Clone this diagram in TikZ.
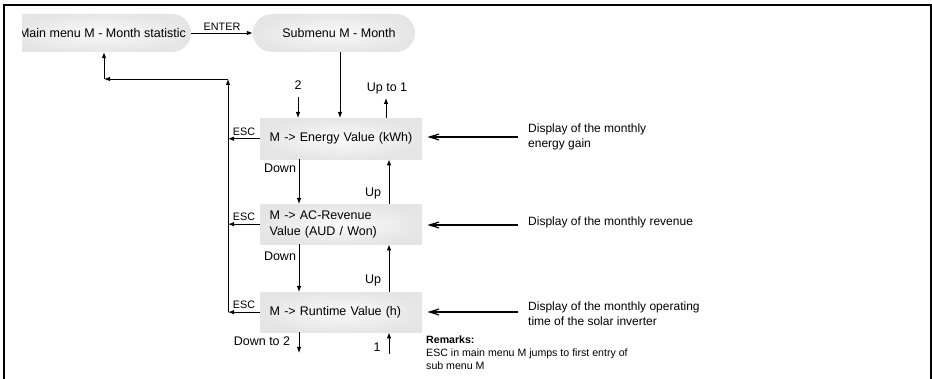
\documentclass[tikz,border=0pt]{standalone}
\usepackage{fontspec}
\setmainfont{Liberation Sans}
\usetikzlibrary{arrows.meta,shapes.misc}
\begin{document}
\begin{tikzpicture}[x=1pt,y=-1pt,
  arr/.style={line width=0.9pt,-{Latex[length=6pt,width=4.5pt]}},
  bigarr/.style={line width=1.8pt,-{Stealth[open,length=18pt,width=11pt,inset=12pt,line width=0.9pt]}},
  boxfill/.style={inner color=black!2, outer color=black!10},
  menubox/.style={rounded rectangle, boxfill, minimum height=38pt, inner sep=0pt},
  valbox/.style={rectangle, boxfill, anchor=north west, minimum height=41pt, text width=147pt, inner xsep=7.5pt, inner ysep=0pt, align=left, font=\fontsize{12.5}{16}\selectfont},
  lbl/.style={inner sep=0pt, font=\fontsize{12.5}{15}\selectfont},
  small/.style={inner sep=0pt, font=\fontsize{10.8}{13}\selectfont},
  disp/.style={inner sep=0pt, anchor=west, align=left, font=\fontsize{12}{15}\selectfont}]
\useasboundingbox (0,0) rectangle (932,379);
\draw[line width=1.4pt] (4,379) -- (4,5) -- (931,5) -- (931,379);

% top menus
\begin{scope}
\clip (22,0) rectangle (200,60);
\node[menubox, rounded rectangle left arc=none, minimum width=181pt] (mainbox) at (100.5,33) {};
\node[lbl, anchor=east] (main) at (186,33) {Main menu M - Month statistic};
\end{scope}
\node[menubox, minimum width=162pt] (sub) at (334,33) {};
\node[lbl] (subt) at (339,33) {Submenu M - Month};
\draw[arr] (mainbox.east) -- (sub.west) node[small, midway, above=2pt] (enter) {ENTER};

% value boxes
\node[valbox] (en) at (260,118) {\hspace*{2pt}M -> Energy Value (kWh)};
\node[valbox, minimum height=40pt] (ac) at (260,204) {\hspace*{2pt}M -> AC-Revenue\\\hspace*{2pt}Value (AUD / Won)};
\node[valbox, minimum height=40pt] (rt) at (260,292) {\hspace*{2pt}M -> Runtime Value (h)};

% helper coordinates
\coordinate (L1) at (228,79);
\coordinate (L2) at (104,79);
\coordinate (dx) at (299,0);
\coordinate (ux) at (389,0);
\coordinate (t2) at (298,97);
\coordinate (u1) at (386,98);
\coordinate (d2) at (299,353);
\coordinate (c1) at (389,354);

% ESC and return path
\draw[arr] (en.west) -- (en.west -| L1) node[small, midway, above=3pt] (esc1) {ESC};
\draw[arr] (ac.west) -- (ac.west -| L1) node[small, midway, above=3pt] (esc2) {ESC};
\draw[arr] (rt.west) -- (rt.west -| L1) node[small, midway, above=3pt] (esc3) {ESC};
\draw[arr] (L1 |- rt.west) -- (L1);
\draw[arr] (L1) -- (L2);
\draw[arr] (L2) -- (L2 |- mainbox.south);

% vertical navigation
\draw[arr] ([xshift=6pt]sub.south) -- ([xshift=6pt]sub.south |- en.north);
\draw[arr] (t2) -- (t2 |- en.north);
\node[lbl] (n2) at (298,85) {2};
\draw[arr] (u1 |- en.north) -- (u1);
\node[lbl] (nu1) at (387,89) {Up to 1};
\draw[arr] (dx |- en.south) -- (dx |- ac.north);
\node[lbl] (dn1) at (280,168) {Down};
\draw[arr] (ux |- ac.north) -- (ux |- en.south);
\node[lbl] (up1) at (373,193) {Up};
\draw[arr] (dx |- ac.south) -- (dx |- rt.north);
\node[lbl] (dn2) at (280,256) {Down};
\draw[arr] (ux |- rt.north) -- (ux |- ac.south);
\node[lbl] (up2) at (373,280) {Up};
\draw[arr] (dx |- rt.south) -- (d2);
\node[lbl] (dn3) at (262,341) {Down to 2};
\draw[arr] (c1) -- (ux |- rt.south);
\node[lbl] (n1) at (377,347) {1};

% display descriptions
\node[disp] (ds1) at (528,136.5) {Display of the monthly\\energy gain};
\node[disp] (ds2) at (528,222) {Display of the monthly revenue};
\node[disp] (ds3) at (528,313.5) {Display of the monthly operating\\time of the solar inverter};
\coordinate (a1) at ([xshift=5pt]en.east);
\coordinate (a2) at ([xshift=5pt]ac.east);
\coordinate (a3) at ([xshift=5pt]rt.east);
\coordinate (s1) at (518,137);
\coordinate (s2) at (518,225);
\coordinate (s3) at (518,312);
\draw[bigarr] (s1) -- (s1 -| a1);
\draw[bigarr] (s2) -- (s2 -| a2);
\draw[bigarr] (s3) -- (s3 -| a3);

% remarks
\node[inner sep=0pt, anchor=west, align=left, font=\fontsize{10.6}{13}\selectfont] (rem) at (426,353) {\textbf{Remarks:}\\ESC in main menu M jumps to first entry of\\sub menu M};
\end{tikzpicture}
\end{document}
